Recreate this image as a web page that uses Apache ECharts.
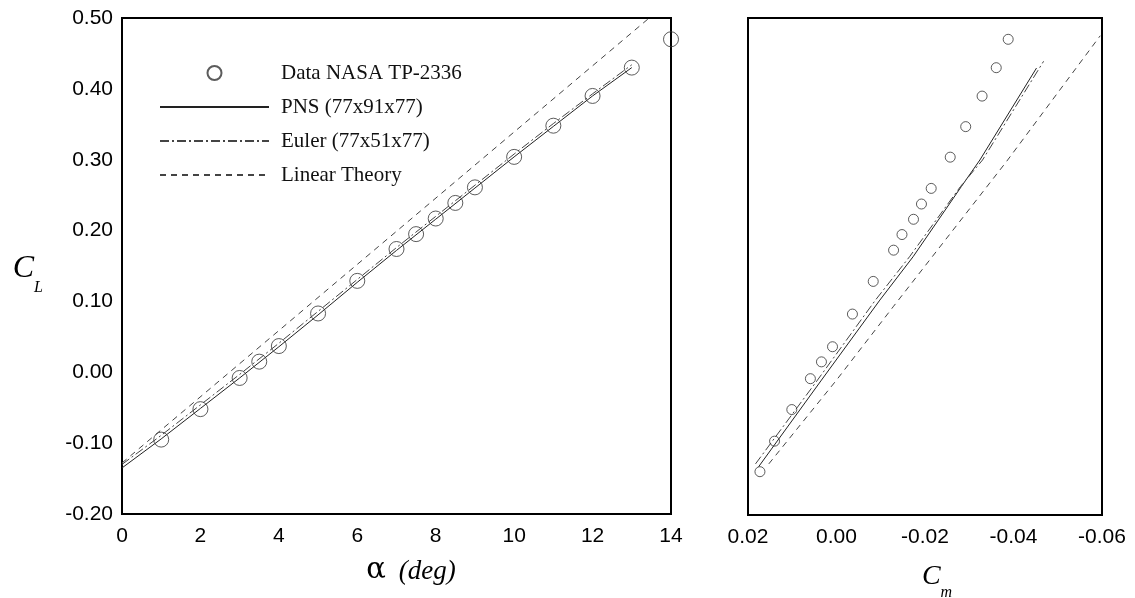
<!DOCTYPE html>
<html>
<head>
<meta charset="utf-8">
<script src="https://cdn.jsdelivr.net/npm/echarts@6/dist/echarts.min.js"></script>
<style>
  html, body { margin: 0; padding: 0; background: #fff; }
  #chart { width: 1135px; height: 598px; }
</style>
</head>
<body>
<div id="chart"></div>
<script>
// ---- Left panel: CL vs alpha ----
const alphaData = [1, 2, 3, 3.5, 4, 5, 6, 7, 7.5, 8, 8.5, 9, 10, 11, 12, 13, 14];
const clData = [-0.095, -0.052, -0.008, 0.015, 0.037, 0.083, 0.129, 0.174, 0.195, 0.217, 0.239, 0.261, 0.304, 0.348, 0.390, 0.430, 0.470];

const pnsAlpha = [0, 1, 2, 3, 4, 5, 6, 7, 8, 9, 10, 11, 12, 13];
const pnsCl = [-0.135, -0.094, -0.051, -0.008, 0.036, 0.081, 0.127, 0.172, 0.216, 0.260, 0.304, 0.347, 0.390, 0.430];

const eulerAlpha = [0, 1, 2, 3, 4, 5, 6, 7, 8, 9, 10, 11, 12, 13];
const eulerCl = [-0.130, -0.089, -0.046, -0.003, 0.041, 0.086, 0.131, 0.176, 0.220, 0.264, 0.308, 0.351, 0.393, 0.434];

const linAlpha = [0, 14];
const linCl = [-0.128, 0.526];

// ---- Right panel: CL vs Cm ----
const cmData = [0.0173, 0.0140, 0.0101, 0.0059, 0.0034, 0.0009, -0.0036, -0.0083, -0.0129, -0.0148, -0.0174, -0.0192, -0.0214, -0.0257, -0.0292, -0.0329, -0.0361, -0.0388];
const clCmData = [-0.139, -0.096, -0.0515, -0.008, 0.0157, 0.037, 0.083, 0.129, 0.173, 0.195, 0.2165, 0.238, 0.260, 0.304, 0.347, 0.390, 0.430, 0.470];

const pnsCm = [0.0176, 0.0034, -0.0098, -0.0173, -0.0282, -0.0324, -0.0452];
const pnsCmCl = [-0.132, -0.010, 0.1027, 0.1637, 0.2625, 0.300, 0.4295];

const eulerCm = [0.0183, 0.0043, -0.0088, -0.0165, -0.0280, -0.0330, -0.0468];
const eulerCmCl = [-0.128, -0.010, 0.1027, 0.1637, 0.2625, 0.300, 0.439];

const linCm = [0.0153, 0.0000, -0.0128, -0.0384, -0.0596];
const linCmCl = [-0.128, -0.010, 0.0932, 0.2977, 0.475];

// ---- Labels ----
const legendNames = ['Data NASA TP-2336', 'PNS (77x91x77)', 'Euler (77x51x77)', 'Linear Theory'];
const alphaTicks = { min: 0, max: 14, interval: 2 };
const clTicks = { min: -0.2, max: 0.5, interval: 0.1 };
const cmTicks = { min: -0.06, max: 0.02, interval: 0.02 };

function zip(a, b) { return a.map((v, i) => [v, b[i]]); }
function fmt2(v) { if (Math.abs(v) < 1e-9) v = 0; return v.toFixed(2); }

const sans = 'Liberation Sans';
const serif = 'Liberation Serif';
const labelStyle = { fontFamily: sans, fontSize: 21, color: '#000' };
const axisLine = { show: true, onZero: false, lineStyle: { color: '#000', width: 2 } };

const solid = { color: '#222', width: 1, type: 'solid' };
const dashDot = { color: '#444', width: 1, type: [9, 3, 2, 3] };
const dashed = { color: '#444', width: 1, type: [6, 5] };
const circleStyle = { color: 'rgba(0,0,0,0)', borderColor: '#333', borderWidth: 1 };
const hiddenSymbol = { color: 'rgba(0,0,0,0)', opacity: 0 };

const chart = echarts.init(document.getElementById('chart'), null, { renderer: 'canvas' });
chart.setOption({
  animation: false,
  backgroundColor: '#fff',
  grid: [
    { left: 122, top: 18, width: 549, height: 496, show: true, borderColor: '#000', borderWidth: 2, outerBoundsMode: 'none', containLabel: false },
    { left: 748, top: 18, width: 354, height: 497, show: true, borderColor: '#000', borderWidth: 2, outerBoundsMode: 'none', containLabel: false }
  ],
  legend: {
    data: [
      { name: legendNames[0] },
      { name: legendNames[1], itemStyle: hiddenSymbol },
      { name: legendNames[2], itemStyle: hiddenSymbol },
      { name: legendNames[3], itemStyle: hiddenSymbol }
    ],
    orient: 'vertical',
    left: 154,
    top: 57,
    itemWidth: 109,
    itemHeight: 14,
    itemGap: 12,
    selectedMode: false,
    textStyle: { fontFamily: serif, fontSize: 21, color: '#111', lineHeight: 22, padding: [0, 0, 0, 7] }
  },
  xAxis: [
    {
      gridIndex: 0, type: 'value', min: alphaTicks.min, max: alphaTicks.max, interval: alphaTicks.interval,
      axisLine: axisLine, axisTick: { show: false }, splitLine: { show: false },
      axisLabel: Object.assign({ margin: 12, formatter: v => String(v) }, labelStyle),
      name: '{a|α}{b|(deg)}',
      nameLocation: 'middle',
      nameGap: 42,
      nameTextStyle: {
        padding: [0, 0, 0, 29],
        rich: {
          a: { fontFamily: 'DejaVu Serif', fontSize: 29, color: '#000', padding: [0, 0, 2, 0] },
          b: { fontFamily: serif, fontSize: 27, fontStyle: 'italic', color: '#000', padding: [0, 0, 0, 13] }
        }
      }
    },
    {
      gridIndex: 1, type: 'value', inverse: true, min: cmTicks.min, max: cmTicks.max, interval: cmTicks.interval,
      axisLine: axisLine, axisTick: { show: false }, splitLine: { show: false },
      axisLabel: Object.assign({ margin: 12, formatter: fmt2 }, labelStyle),
      name: '{c|C}{s|m}',
      nameLocation: 'middle',
      nameGap: 36,
      nameTextStyle: {
        padding: [0, 0, 0, 24],
        rich: {
          c: { fontFamily: serif, fontSize: 28, fontStyle: 'italic', color: '#000', lineHeight: 32 },
          s: { fontFamily: serif, fontSize: 16, fontStyle: 'italic', color: '#000', lineHeight: 16, padding: [32, 0, 0, 0] }
        }
      }
    }
  ],
  yAxis: [
    {
      gridIndex: 0, type: 'value', min: clTicks.min, max: clTicks.max, interval: clTicks.interval,
      axisLine: axisLine, axisTick: { show: false }, splitLine: { show: false },
      axisLabel: Object.assign({ margin: 9, formatter: fmt2 }, labelStyle),
      name: '{c|C}{s|L}',
      nameLocation: 'middle',
      nameRotate: 0,
      nameGap: 79,
      nameTextStyle: {
        padding: [6, 0, 0, 0],
        rich: {
          c: { fontFamily: serif, fontSize: 32, fontStyle: 'italic', color: '#000', lineHeight: 36 },
          s: { fontFamily: serif, fontSize: 16, fontStyle: 'italic', color: '#000', lineHeight: 16, padding: [38, 0, 0, 0] }
        }
      }
    },
    {
      gridIndex: 1, type: 'value', min: clTicks.min, max: clTicks.max, interval: clTicks.interval,
      axisLine: axisLine, axisTick: { show: false }, splitLine: { show: false },
      axisLabel: { show: false }
    }
  ],
  series: [
    { name: legendNames[0], type: 'scatter', xAxisIndex: 0, yAxisIndex: 0, symbol: 'circle', symbolSize: 15,
      itemStyle: circleStyle, data: zip(alphaData, clData), z: 3 },
    { name: legendNames[1], type: 'line', xAxisIndex: 0, yAxisIndex: 0, symbol: 'none', lineStyle: solid,
      itemStyle: hiddenSymbol, data: zip(pnsAlpha, pnsCl) },
    { name: legendNames[2], type: 'line', xAxisIndex: 0, yAxisIndex: 0, symbol: 'none', lineStyle: dashDot,
      itemStyle: hiddenSymbol, data: zip(eulerAlpha, eulerCl) },
    { name: legendNames[3], type: 'line', xAxisIndex: 0, yAxisIndex: 0, symbol: 'none', lineStyle: dashed,
      itemStyle: hiddenSymbol, data: zip(linAlpha, linCl) },

    { name: legendNames[0], type: 'scatter', xAxisIndex: 1, yAxisIndex: 1, symbol: 'circle', symbolSize: 10,
      itemStyle: circleStyle, data: zip(cmData, clCmData), z: 3 },
    { name: legendNames[1], type: 'line', xAxisIndex: 1, yAxisIndex: 1, symbol: 'none', lineStyle: solid,
      itemStyle: hiddenSymbol, data: zip(pnsCm, pnsCmCl) },
    { name: legendNames[2], type: 'line', xAxisIndex: 1, yAxisIndex: 1, symbol: 'none', lineStyle: dashDot,
      itemStyle: hiddenSymbol, data: zip(eulerCm, eulerCmCl) },
    { name: legendNames[3], type: 'line', xAxisIndex: 1, yAxisIndex: 1, symbol: 'none', lineStyle: dashed,
      itemStyle: hiddenSymbol, data: zip(linCm, linCmCl) }
  ]
});
</script>
</body>
</html>
